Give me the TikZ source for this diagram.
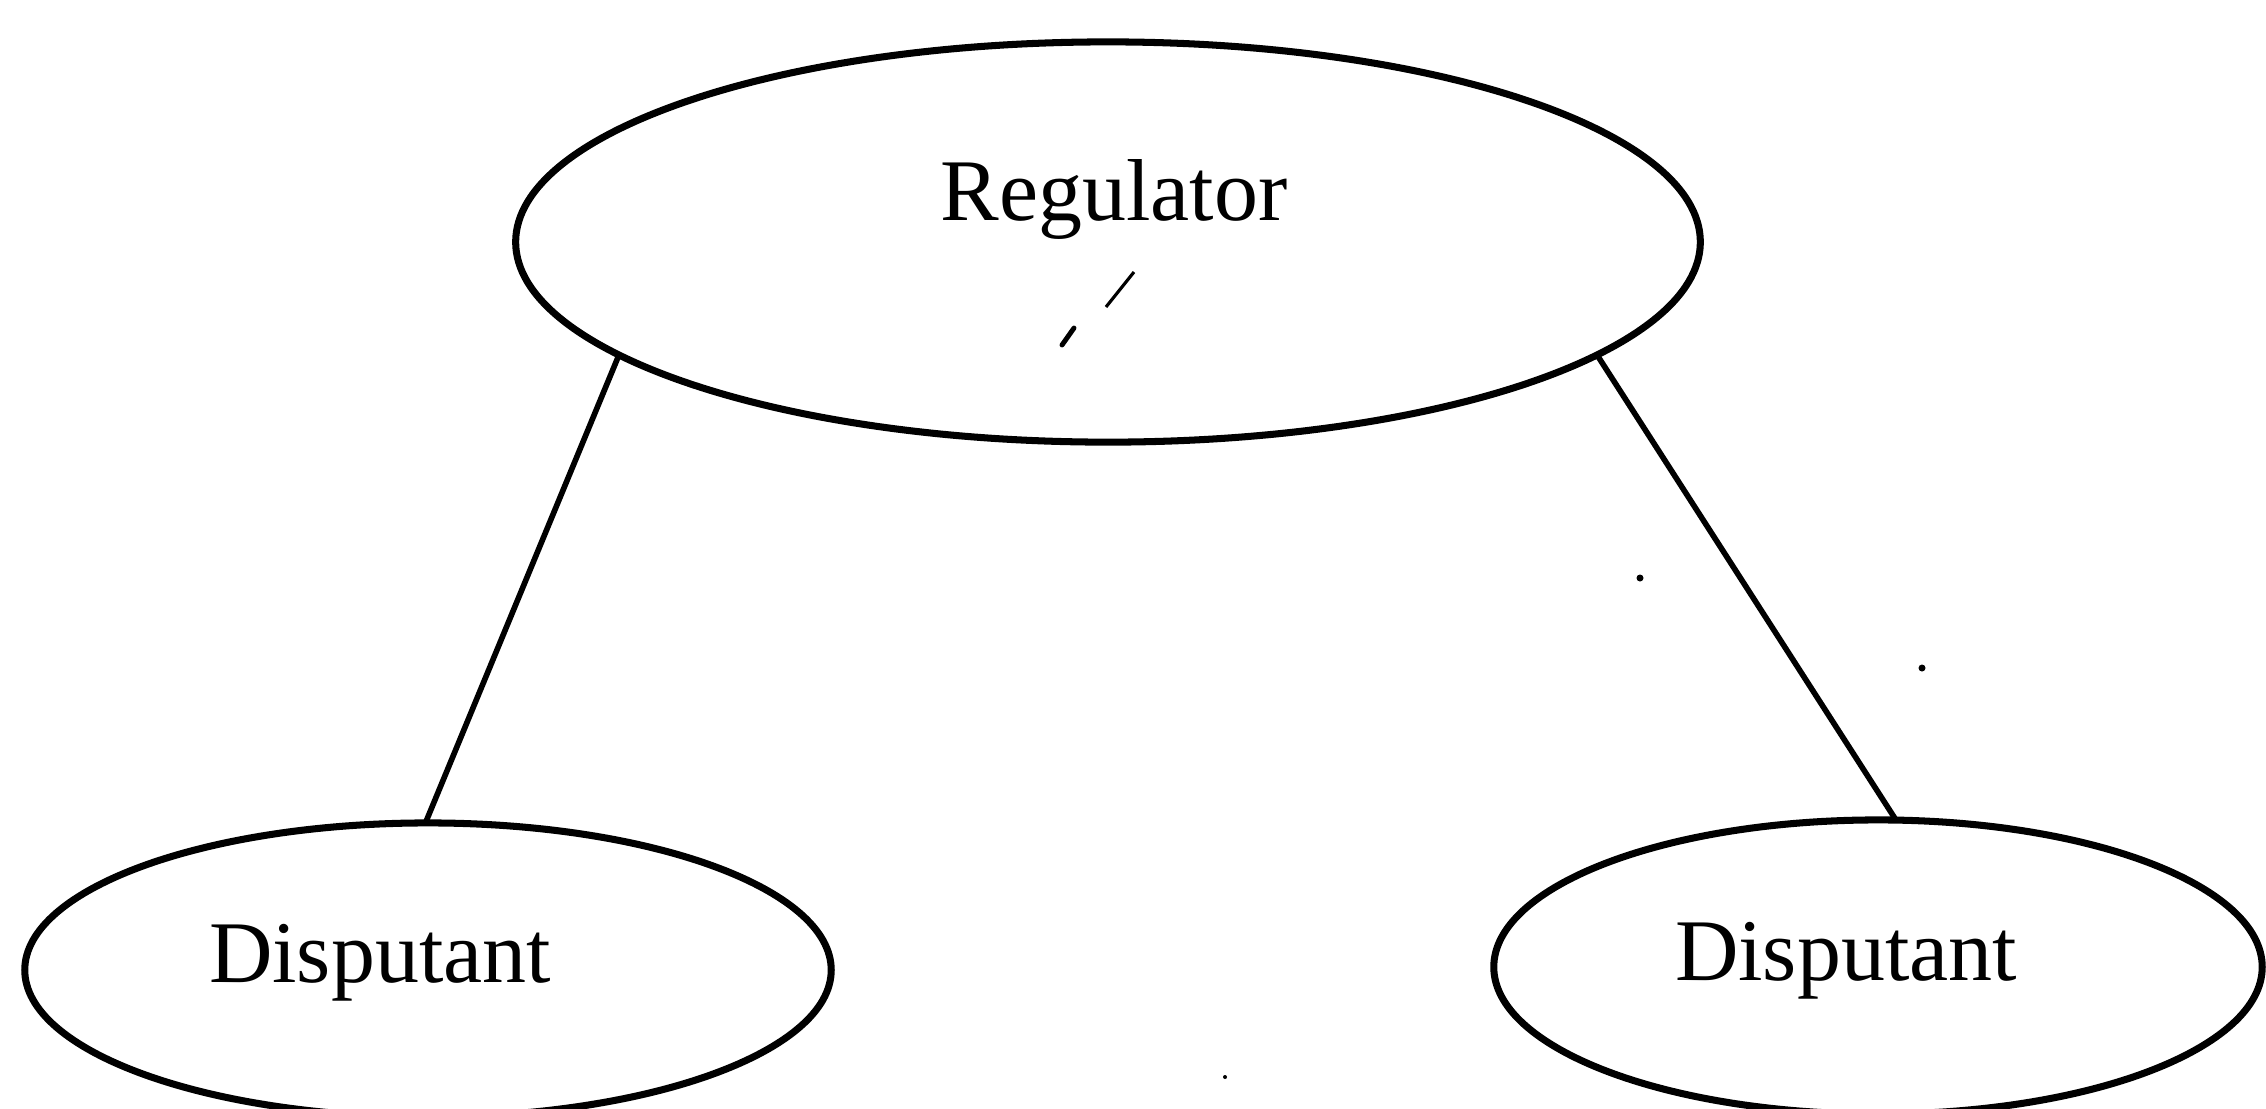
\documentclass[tikz,border=0pt]{standalone}
\usepackage{fontspec}
\setmainfont{Liberation Serif}
\usetikzlibrary{shapes.geometric}
\begin{document}
\begin{tikzpicture}[x=0.01cm,y=-0.01cm,
  oval/.style={draw=black,ellipse,line width=2pt,inner sep=0pt,outer sep=0pt},
  lbl/.style={inner sep=0pt,anchor=base,font=\fontsize{25}{30}\selectfont},
  conn/.style={draw=black,line width=1.6pt},
  speck/.style={fill=black}]
\useasboundingbox (0,0) rectangle (2266,1108);
\clip (0,0) rectangle (2266,1108);
\node[oval,minimum width=11.84cm,minimum height=4.0cm] (reg) at (1108,242) {};
\node[oval,minimum width=8.06cm,minimum height=2.94cm] (dl) at (428,970) {};
\node[oval,minimum width=7.68cm,minimum height=2.94cm] (dr) at (1878,967) {};
\node[lbl] (tReg) at (1114,220) {Regulator};
\node[lbl] (tDl) at (380,982) {Disputant};
\node[lbl] (tDr) at (1846,980) {Disputant};
\draw[conn] (reg.193.1) -- (dl.91);
\draw[conn] (reg.347.3) -- (dr.83);
% scan marks
\coordinate (m1) at (1134,272);
\coordinate (m2) at (1106,307);
\coordinate (m3) at (1074,328);
\coordinate (m4) at (1062,345);
\draw[line width=0.9pt] (m1) -- (m2);
\draw[line width=1.4pt,line cap=round] (m3) -- (m4);
\fill[speck] (1640,578) circle (3.5);
\fill[speck] (1922,668) circle (3.5);
\fill[speck] (1225,1077) circle (2);
\end{tikzpicture}
\end{document}
